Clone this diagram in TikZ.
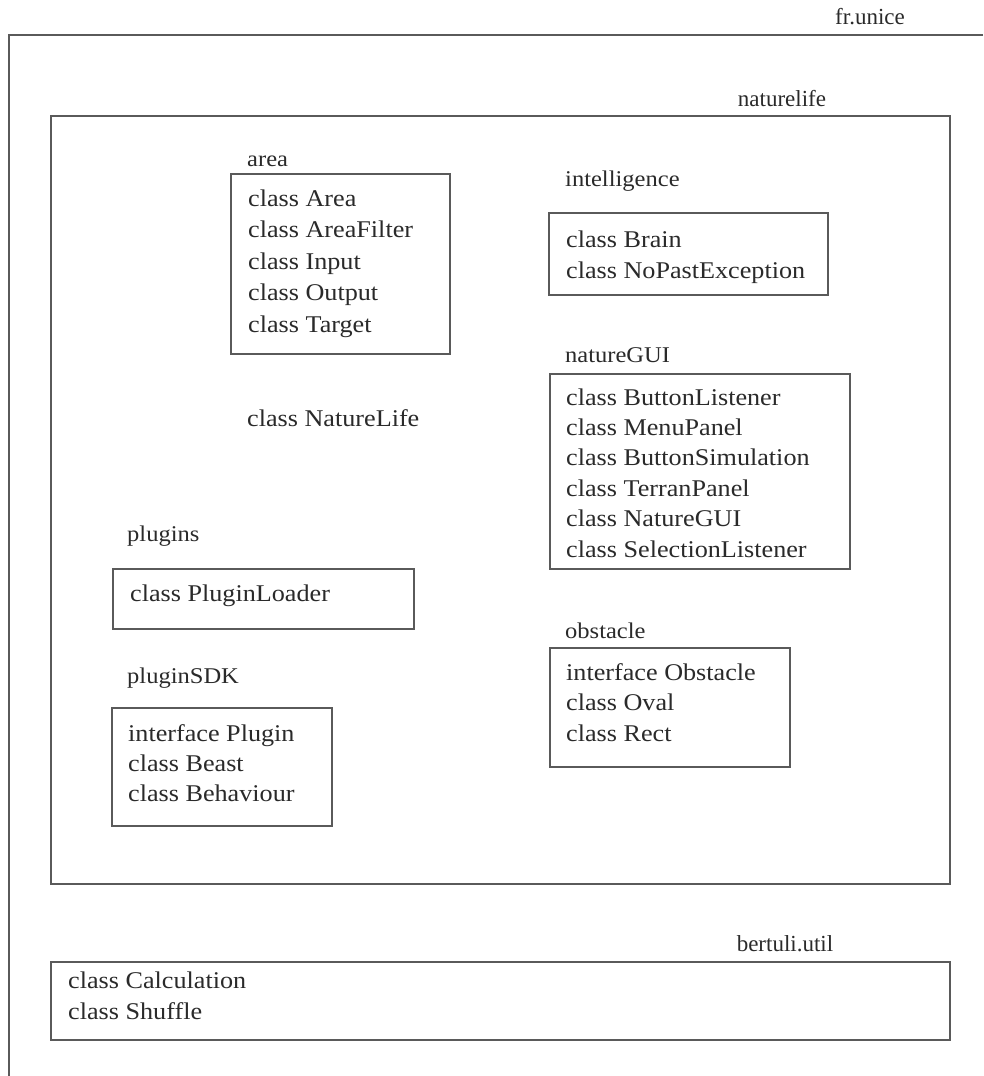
\documentclass[tikz,border=0pt]{standalone}
\usepackage{fontspec}
\setmainfont{Liberation Serif}
\newfontfamily\entryfont[FakeStretch=1.09]{Liberation Serif}
\definecolor{inkline}{HTML}{5A5A5A}
\definecolor{inktext}{HTML}{2A2A2A}
\tikzset{
  pkgbox/.style={draw=inkline, line width=1.6pt, rectangle, inner sep=0pt, anchor=north west},
  pkglabel/.style={anchor=base west, inner sep=0pt, text=inktext, font=\entryfont\fontsize{22.5}{30}\selectfont},
  pkgname/.style={anchor=base, inner sep=0pt, text=inktext, font=\fontsize{23}{30}\selectfont},
  entry/.style={anchor=base west, inner sep=0pt, text=inktext, font=\entryfont\fontsize{24}{30}\selectfont}
}
% list of entries: #1 name prefix, #2 x, #3 first baseline, #4 step, #5 items
\newcommand{\entrylist}[5]{%
  \foreach \txt [count=\k from 0] in {#5} {
    \node[entry] (#1-\k) at (#2, #3 + #4*\k) {\txt};
  }%
}
\begin{document}
\begin{tikzpicture}[x=1pt, y=-1pt]
\useasboundingbox (0,0) rectangle (983,1076);
\fill[white] (0,0) rectangle (983,1076);

% fr.unice frame (open to the right and bottom)
\coordinate (fr-tr) at (983,35);
\coordinate (fr-tl) at (9,35);
\coordinate (fr-bl) at (9,1076);
\draw[inkline, line width=1.6pt] (fr-tr) -- (fr-tl) -- (fr-bl);
\node[pkgname] (frunice) at (870,24) {fr.unice};

% naturelife package
\node[pkgbox, minimum width=899pt, minimum height=768pt] (naturelife) at (50,115) {};
\node[pkgname] (naturelife-lbl) at (782,106) {naturelife};

% area
\node[pkglabel] (area-lbl) at (247,166) {area};
\node[pkgbox, minimum width=219pt, minimum height=180pt] (area) at (230,173) {};
\entrylist{area}{248}{206}{31.5}{class Area, class AreaFilter, class Input, class Output, class Target}

% intelligence
\node[pkglabel] (intel-lbl) at (565,186) {intelligence};
\node[pkgbox, minimum width=279pt, minimum height=82pt] (intel) at (548,212) {};
\entrylist{intel}{566}{247}{31}{class Brain, class NoPastException}

% natureGUI
\node[pkglabel] (gui-lbl) at (565,362) {natureGUI};
\node[pkgbox, minimum width=300pt, minimum height=195pt] (gui) at (549,373) {};
\entrylist{gui}{566}{405}{30.4}{class ButtonListener, class MenuPanel, class ButtonSimulation, class TerranPanel, class NatureGUI, class SelectionListener}

% top-level class of naturelife
\node[entry] (naturelife-cls) at (247,426) {class NatureLife};

% plugins
\node[pkglabel] (plugins-lbl) at (127,541) {plugins};
\node[pkgbox, minimum width=301pt, minimum height=60pt] (plugins) at (112,568) {};
\entrylist{plugins}{130}{601}{30}{class PluginLoader}

% pluginSDK
\node[pkglabel] (sdk-lbl) at (127,683) {pluginSDK};
\node[pkgbox, minimum width=220pt, minimum height=118pt] (sdk) at (111,707) {};
\entrylist{sdk}{128}{741}{30}{interface Plugin, class Beast, class Behaviour}

% obstacle
\node[pkglabel] (obst-lbl) at (565,638) {obstacle};
\node[pkgbox, minimum width=240pt, minimum height=119pt] (obst) at (549,647) {};
\entrylist{obst}{566}{680}{30.5}{interface Obstacle, class Oval, class Rect}

% bertuli.util package
\node[pkgname] (util-lbl) at (785,951) {bertuli.util};
\node[pkgbox, minimum width=899pt, minimum height=78pt] (util) at (50,961) {};
\entrylist{util}{68}{988}{31}{class Calculation, class Shuffle}
\end{tikzpicture}
\end{document}
